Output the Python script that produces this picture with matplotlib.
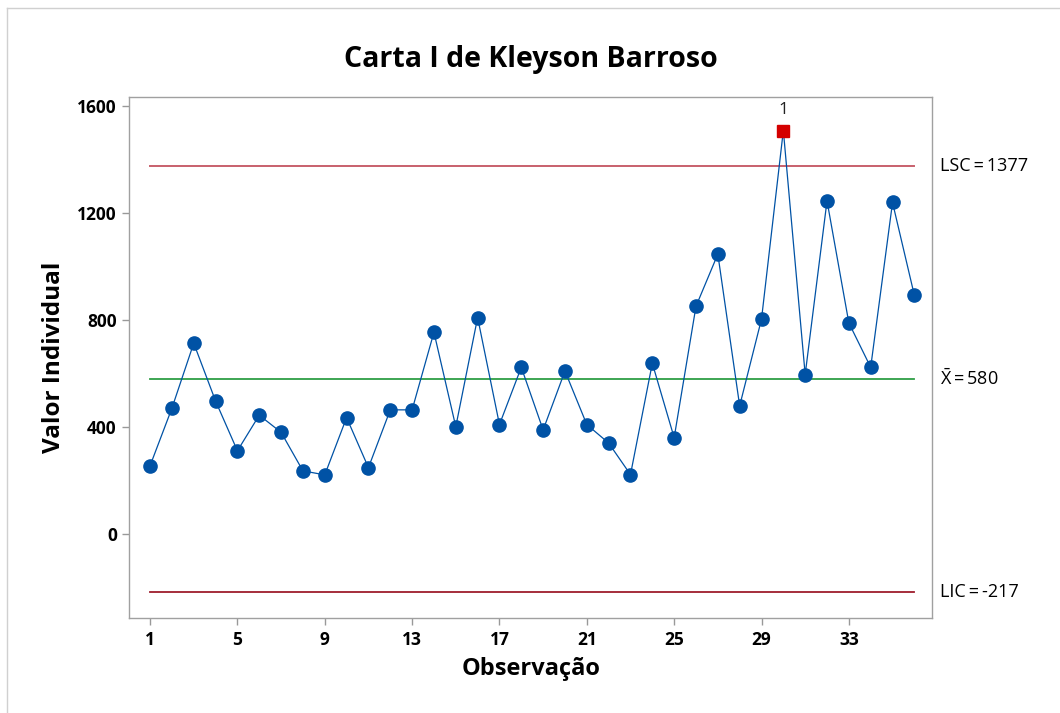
import matplotlib
matplotlib.use("Agg")
import matplotlib.pyplot as plt
from matplotlib.lines import Line2D

plt.rcParams['font.family'] = ['Open Sans', 'DejaVu Sans']
plt.rcParams['mathtext.fontset'] = 'custom'
plt.rcParams['mathtext.rm'] = 'Open Sans'
plt.rcParams['mathtext.it'] = 'Open Sans'

# Data
observations = list(range(1, 37))
values = [255, 470, 713, 497, 311, 444, 380, 236, 221, 435,
          248, 464, 464, 754, 401, 809, 409, 623, 389, 609,
          409, 340, 222, 638, 360, 851, 1046, 479, 803, 1508,
          596, 1245, 789, 623, 1239, 892]
ucl = 1377
center = 580
lcl = -217
out_of_control = [30]
x_ticks = [1, 5, 9, 13, 17, 21, 25, 29, 33]
y_ticks = [0, 400, 800, 1200, 1600]

title = "Carta I de Kleyson Barroso"
xlabel = "Observação"
ylabel = "Valor Individual"

fig = plt.figure(figsize=(10.6, 7.13), dpi=100)
ax = fig.add_axes([0.122, 0.1332, 0.7575, 0.7303])

blue = '#0052A5'
ax.plot(observations, values, color=blue, lw=0.9, zorder=3)
normal_x = [o for o in observations if o not in out_of_control]
normal_y = [v for o, v in zip(observations, values) if o not in out_of_control]
ax.plot(normal_x, normal_y, 'o', color=blue, ms=9.5, mec=blue, zorder=4)
ooc_y = [values[o - 1] for o in out_of_control]
ax.plot(out_of_control, ooc_y, 's', color='#D40000', ms=8.5, mec='#D40000', zorder=5)
for o, v in zip(out_of_control, ooc_y):
    ax.annotate("1", (o, v), xytext=(0, 9), textcoords='offset points',
                ha='center', va='bottom', fontsize=12.5, color='#222222')

x0, x1 = observations[0], observations[-1]
ax.plot([x0, x1], [ucl, ucl], color='#C8606C', lw=1.4, zorder=2)
ax.plot([x0, x1], [center, center], color='#2E9E45', lw=1.3, zorder=2)
ax.plot([x0, x1], [lcl, lcl], color='#9E1C2C', lw=1.3, zorder=2)

ax.set_xlim(0.05, 36.82)
ax.set_ylim(-314, 1632)
ax.set_xticks(x_ticks)
ax.set_yticks(y_ticks)
ax.tick_params(axis='both', length=5, width=1, color='#999999',
               labelsize=12.5, pad=4)
for lab in ax.get_xticklabels() + ax.get_yticklabels():
    lab.set_fontweight('bold')
for s in ax.spines.values():
    s.set_color('#A0A0A0')
    s.set_linewidth(1)

ax.set_title(title, fontsize=20.5, fontweight='bold', pad=22)
ax.set_xlabel(xlabel, fontsize=17, fontweight='bold', labelpad=6)
ax.set_ylabel(ylabel, fontsize=17.5, fontweight='bold', labelpad=8)

trans = ax.get_yaxis_transform()
ax.text(1.01, ucl, "LSC\u2009=\u20091377", transform=trans, va='center', ha='left',
        fontsize=13, clip_on=False)
ax.text(1.01, center, r"$\bar{\mathrm{X}}$" + "\u2009=\u2009580", transform=trans,
        va='center', ha='left', fontsize=13, clip_on=False)
ax.text(1.01, lcl, "LIC\u2009=\u2009-217", transform=trans, va='center', ha='left',
        fontsize=13, clip_on=False)

# outer frame lines (top and left)
fig.add_artist(Line2D([7 / 1060, 1], [1 - 8 / 713, 1 - 8 / 713],
                      transform=fig.transFigure, color='#D0D0D0', lw=1))
fig.add_artist(Line2D([7 / 1060, 7 / 1060], [0, 1 - 8 / 713],
                      transform=fig.transFigure, color='#D0D0D0', lw=1))

fig.savefig("out.png", dpi=100)
